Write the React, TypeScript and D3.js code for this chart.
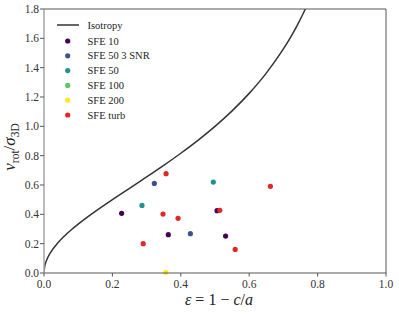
import React from "react";
import * as d3 from "d3";

// Isotropy curve (epsilon, v/sigma)
const isoEps = [0, 0.002, 0.005, 0.01, 0.02, 0.04, 0.06, 0.08, 0.1, 0.15, 0.2, 0.25, 0.3, 0.35, 0.4, 0.45, 0.5, 0.55, 0.6, 0.65, 0.7, 0.72, 0.74, 0.76, 0.77];
const isoV = [0, 0.0448, 0.0709, 0.1005, 0.1429, 0.2041, 0.2526, 0.2949, 0.3333, 0.4201, 0.5, 0.5774, 0.6547, 0.7338, 0.8165, 0.9045, 1.0, 1.1055, 1.2247, 1.3628, 1.5275, 1.6036, 1.6871, 1.7795, 1.8297];

const seriesNames = ["SFE 10", "SFE 50 3 SNR", "SFE 50", "SFE 100", "SFE 200", "SFE turb"];
const seriesColors = ["#440154", "#3b528b", "#21918c", "#5ec962", "#fde725", "#e0282a"];

const sfe10Eps = [0.227, 0.3635, 0.506, 0.531];
const sfe10V = [0.407, 0.261, 0.425, 0.252];
const sfe50snrEps = [0.3226, 0.428];
const sfe50snrV = [0.611, 0.268];
const sfe50Eps = [0.2865, 0.495];
const sfe50V = [0.461, 0.62];
const sfe100Eps: number[] = [];
const sfe100V: number[] = [];
const sfe200Eps = [0.356];
const sfe200V = [0.005];
const turbEps = [0.357, 0.348, 0.392, 0.29, 0.514, 0.662, 0.559];
const turbV = [0.677, 0.402, 0.373, 0.2, 0.427, 0.591, 0.161];

const xTicks = [0, 0.2, 0.4, 0.6, 0.8, 1.0];
const yTicks = [0, 0.2, 0.4, 0.6, 0.8, 1.0, 1.2, 1.4, 1.6, 1.8];

const W = 399, H = 314;
const L = 44, R = 386, T = 9, B = 273;
const font = "'Liberation Serif', 'DejaVu Serif', serif";

export default function App() {
  const x = d3.scaleLinear().domain([0, 1]).range([L, R]);
  const y = d3.scaleLinear().domain([0, 1.8]).range([B, T]);
  const line = d3.line<number>().x((_, i) => x(isoEps[i])).y((d) => y(d)).curve(d3.curveMonotoneX);
  const groups = [
    [sfe10Eps, sfe10V],
    [sfe50snrEps, sfe50snrV],
    [sfe50Eps, sfe50V],
    [sfe100Eps, sfe100V],
    [sfe200Eps, sfe200V],
    [turbEps, turbV],
  ];
  return (
    <svg width={W} height={H} style={{ position: "absolute", left: 0, top: 0 }} fontFamily={font}>
      <rect width={W} height={H} fill="#fff" />
      <defs>
        <clipPath id="pc"><rect x={L} y={T} width={R - L} height={B - T} /></clipPath>
      </defs>
      <g clipPath="url(#pc)">
        <path d={line(isoV) || ""} fill="none" stroke="#333" strokeWidth={1.5} />
      </g>
      {groups.map(([ex, vy], gi) =>
        ex.map((e, i) => (
          <circle key={gi + "-" + i} cx={x(e)} cy={y(vy[i])} r={2.6} fill={seriesColors[gi]} />
        ))
      )}
      {/* spines */}
      <line x1={L} x2={R} y1={T} y2={T} stroke="#555" strokeWidth={1} />
      <line x1={R} x2={R} y1={T} y2={B} stroke="#555" strokeWidth={1} />
      <line x1={L} x2={R} y1={B} y2={B} stroke="#555" strokeWidth={1} />
      <line x1={L} x2={L} y1={T} y2={B} stroke="#aaa" strokeWidth={1.6} />
      {xTicks.map((t) => (
        <g key={"x" + t}>
          <line x1={x(t)} x2={x(t)} y1={B} y2={B + 3.5} stroke="#555" />
          <text x={x(t)} y={B + 15} fontSize={11.5} textAnchor="middle" fill="#333">{t.toFixed(1)}</text>
        </g>
      ))}
      {yTicks.map((t) => (
        <g key={"y" + t}>
          <line x1={L - 4} x2={L} y1={y(t)} y2={y(t)} stroke="#555" />
          <text x={L - 5} y={y(t) + 4} fontSize={11.5} textAnchor="end" fill="#333">{t.toFixed(1)}</text>
        </g>
      ))}
      <text x={219} y={305} fontSize={16} textAnchor="middle" fill="#222">
        <tspan fontStyle="italic">ε</tspan><tspan dx={4}>=</tspan><tspan dx={4}>1</tspan><tspan dx={4}>−</tspan><tspan dx={4} fontStyle="italic">c</tspan><tspan>/</tspan><tspan fontStyle="italic">a</tspan>
      </text>
      <text transform={`translate(15,${(T + B) / 2 + 6}) rotate(-90)`} fontSize={17} textAnchor="middle" fill="#222">
        <tspan fontStyle="italic">v</tspan>
        <tspan fontSize={11.5} dy={3.5}>rot</tspan>
        <tspan dy={-3.5}>/</tspan>
        <tspan fontStyle="italic">σ</tspan>
        <tspan fontSize={11.5} dy={3.5}>3D</tspan>
      </text>
      {/* legend */}
      <g fontSize={10.5} fill="#222">
        <line x1={57} x2={79} y1={25} y2={25} stroke="#333" strokeWidth={1.5} />
        <text x={87.5} y={28.5}>Isotropy</text>
        {seriesNames.map((n, i) => (
          <g key={n}>
            <circle cx={67.7} cy={41 + i * 14.8} r={2.6} fill={seriesColors[i]} />
            <text x={87.5} y={44.5 + i * 14.8}>{n}</text>
          </g>
        ))}
      </g>
    </svg>
  );
}
